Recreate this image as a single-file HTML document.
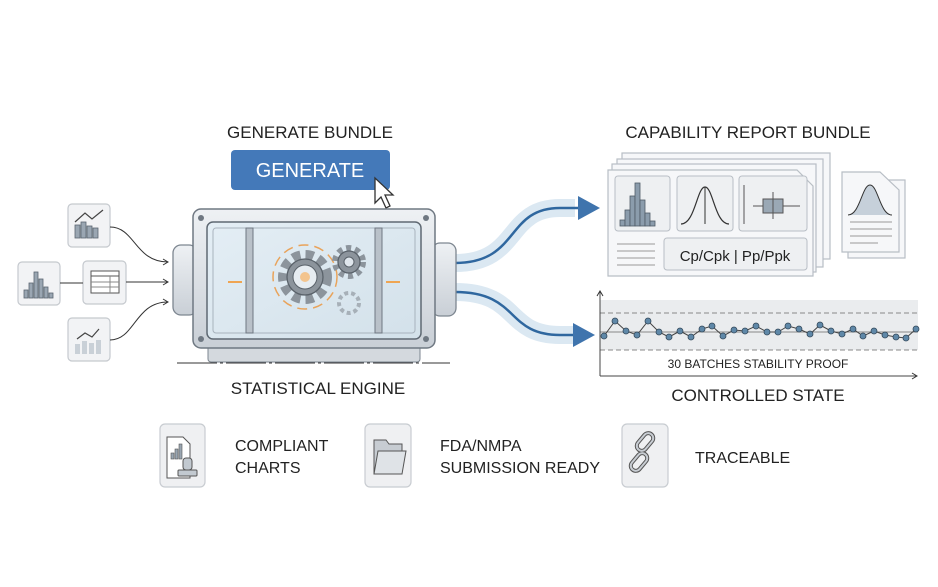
<!DOCTYPE html>
<html><head><meta charset="utf-8"><style>
html,body{margin:0;padding:0;background:#fff;}
svg{display:block;font-family:"Liberation Sans",sans-serif;}
</style></head><body>
<svg width="938" height="587" viewBox="0 0 938 587" xmlns="http://www.w3.org/2000/svg">
<defs>
<linearGradient id="metal" x1="0" y1="0" x2="0" y2="1"><stop offset="0" stop-color="#eef1f4"/><stop offset="1" stop-color="#c9cfd6"/></linearGradient>
<linearGradient id="glass" x1="0" y1="0" x2="1" y2="1"><stop offset="0" stop-color="#e4eef5"/><stop offset="1" stop-color="#d3e1ea"/></linearGradient>
<marker id="ah" markerWidth="8" markerHeight="8" refX="6" refY="4" orient="auto"><path d="M1,1 L6,4 L1,7" fill="none" stroke="#333" stroke-width="1"/></marker>
</defs>
<rect width="938" height="587" fill="#fff"/>

<!-- titles -->
<text x="310" y="138" font-size="17" text-anchor="middle" fill="#222">GENERATE BUNDLE</text>
<rect x="231" y="150" width="159" height="40" rx="4" fill="#4479b9"/>
<text x="310" y="177" font-size="20" text-anchor="middle" fill="#fff">GENERATE</text>
<path d="M375,178 L375,203 L381,197 L386,208 L390,206 L385,195 L393,195 Z" fill="#fff" stroke="#333" stroke-width="1.3"/>

<!-- input icons -->
<g fill="#f2f3f5" stroke="#c5c9ce" stroke-width="1.2">
<rect x="68" y="204" width="42" height="43" rx="4"/>
<rect x="18" y="262" width="42" height="43" rx="4"/>
<rect x="83" y="261" width="43" height="43" rx="4"/>
<rect x="68" y="318" width="42" height="43" rx="4"/>
</g>
<g fill="#9aa6b2" stroke="#5b6670" stroke-width="0.8">
<rect x="75" y="225" width="5" height="13"/><rect x="81" y="222" width="5" height="16"/><rect x="87" y="226" width="5" height="12"/><rect x="93" y="228" width="5" height="10"/>
<rect x="24" y="290" width="4" height="8"/><rect x="29" y="283" width="4" height="15"/><rect x="34" y="272" width="4" height="26"/><rect x="39" y="279" width="4" height="19"/><rect x="44" y="287" width="4" height="11"/><rect x="49" y="293" width="4" height="5"/>
<rect x="75" y="344" width="5" height="10" fill="#c9d0d7" stroke="none"/><rect x="82" y="341" width="5" height="13" fill="#c9d0d7" stroke="none"/><rect x="89" y="343" width="5" height="11" fill="#c9d0d7" stroke="none"/><rect x="96" y="340" width="5" height="14" fill="#c9d0d7" stroke="none"/>
</g>
<polyline points="75,222 85,213 92,219 103,210" fill="none" stroke="#444" stroke-width="1.2"/>
<polyline points="77,339 85,333 92,337 99,329" fill="none" stroke="#444" stroke-width="1.2"/>
<rect x="91" y="271" width="28" height="22" fill="#fff" stroke="#555"/><line x1="91" y1="276" x2="119" y2="276" stroke="#555"/><line x1="91" y1="282" x2="119" y2="282" stroke="#888"/><line x1="91" y1="287" x2="119" y2="287" stroke="#888"/><line x1="110" y1="276" x2="110" y2="293" stroke="#888"/>
<line x1="60" y1="283" x2="83" y2="283" stroke="#333"/>
<path d="M110,227 C135,227 135,262 168,262" fill="none" stroke="#333" marker-end="url(#ah)"/>
<line x1="126" y1="282" x2="168" y2="282" stroke="#333" marker-end="url(#ah)"/>
<path d="M110,340 C135,340 135,302 168,302" fill="none" stroke="#333" marker-end="url(#ah)"/>

<!-- flows right -->
<path d="M455,263 C520,263 505,208 560,208 L575,208" fill="none" stroke="#dbe8f2" stroke-width="18"/>
<path d="M455,263 C520,263 505,208 560,208 L585,208" fill="none" stroke="#2f679f" stroke-width="2.5"/>
<path d="M578,196 L600,208 L578,220 Z" fill="#3f74ad"/>
<path d="M455,292 C520,292 505,335 560,335 L575,335" fill="none" stroke="#dbe8f2" stroke-width="18"/>
<path d="M455,292 C520,292 505,335 560,335 L580,335" fill="none" stroke="#2f679f" stroke-width="2.5"/>
<path d="M573,323 L595,335 L573,347 Z" fill="#3f74ad"/>

<!-- engine -->
<rect x="173" y="245" width="24" height="70" rx="8" fill="url(#metal)" stroke="#7d8690" stroke-width="1.3"/>
<rect x="432" y="243" width="24" height="73" rx="8" fill="url(#metal)" stroke="#7d8690" stroke-width="1.3"/>
<rect x="208" y="340" width="212" height="22" rx="3" fill="#d4d9de" stroke="#7d8690"/>
<rect x="193" y="209" width="242" height="139" rx="8" fill="url(#metal)" stroke="#6f7882" stroke-width="1.5"/>
<rect x="207" y="222" width="214" height="117" rx="6" fill="url(#glass)" stroke="#5f6973" stroke-width="1.5"/>
<rect x="213" y="228" width="202" height="105" rx="3" fill="none" stroke="#a8b3bd"/>
<g fill="#b9c1c9" stroke="#6f7882"><rect x="246" y="228" width="7" height="105"/><rect x="375" y="228" width="7" height="105"/></g>
<g fill="#6f7882"><circle cx="201" cy="218" r="3"/><circle cx="426" cy="218" r="3"/><circle cx="201" cy="339" r="3"/><circle cx="426" cy="339" r="3"/></g>
<circle cx="305" cy="277" r="32" fill="none" stroke="#e9a35a" stroke-width="1.5" stroke-dasharray="10 6"/>
<g fill="#8c949c" stroke="#5a626a" stroke-width="1.3">
<circle cx="305" cy="277" r="22" stroke-dasharray="8 5" stroke-width="10" fill="none" stroke="#8c949c"/>
<circle cx="305" cy="277" r="18"/>
<circle cx="349" cy="262" r="14" stroke-dasharray="5 4" stroke-width="6" fill="none" stroke="#8c949c"/>
<circle cx="349" cy="262" r="11"/>
</g>
<circle cx="305" cy="277" r="12" fill="#e6ecf1" stroke="#5a626a"/>
<circle cx="305" cy="277" r="5" fill="#f3c48e"/>
<circle cx="349" cy="262" r="5" fill="#dfe6ec" stroke="#5a626a"/>
<circle cx="349" cy="303" r="10" fill="none" stroke="#a7b0b8" stroke-width="4" stroke-dasharray="4 3"/>
<g stroke="#efa552" stroke-width="2"><line x1="228" y1="282" x2="242" y2="282"/><line x1="386" y1="282" x2="400" y2="282"/></g>
<line x1="177" y1="363" x2="450" y2="363" stroke="#333" stroke-dasharray="40 3 3 3"/>
<text x="318" y="394" font-size="17" text-anchor="middle" fill="#222">STATISTICAL ENGINE</text>

<!-- report bundle -->
<text x="748" y="138" font-size="17" text-anchor="middle" fill="#222">CAPABILITY REPORT BUNDLE</text>
<g fill="#f6f7f9" stroke="#b8bec5" stroke-width="1.2">
<rect x="622" y="153" width="208" height="106"/>
<rect x="617" y="159" width="206" height="108"/>
<rect x="612" y="164" width="204" height="108"/>
<path d="M608,170 L797,170 L813,186 L813,276 L608,276 Z"/>
</g>
<g fill="#eef0f2" stroke="#b8bec5">
<rect x="615" y="176" width="55" height="55" rx="3"/><rect x="677" y="176" width="56" height="55" rx="3"/><rect x="739" y="176" width="68" height="55" rx="3"/>
<rect x="664" y="238" width="143" height="32" rx="3"/>
</g>
<g fill="#8b9cac" stroke="#4f5b66" stroke-width="0.8">
<rect x="620" y="220" width="5" height="6"/><rect x="625" y="210" width="5" height="16"/><rect x="630" y="196" width="5" height="30"/><rect x="635" y="183" width="5" height="43"/><rect x="640" y="200" width="5" height="26"/><rect x="645" y="213" width="5" height="13"/><rect x="650" y="221" width="5" height="5"/>
</g>
<path d="M681,224 C695,224 697,187 705,187 C713,187 715,224 729,224" fill="none" stroke="#333" stroke-width="1.2"/>
<line x1="705" y1="187" x2="705" y2="224" stroke="#333"/>
<line x1="744" y1="185" x2="744" y2="224" stroke="#555"/>
<line x1="753" y1="206" x2="800" y2="206" stroke="#555"/>
<rect x="763" y="199" width="20" height="14" fill="#9aa8b5" stroke="#555"/>
<line x1="773" y1="192" x2="773" y2="219" stroke="#555"/>
<g stroke="#999"><line x1="617" y1="244" x2="655" y2="244"/><line x1="617" y1="251" x2="655" y2="251"/><line x1="617" y1="258" x2="655" y2="258"/><line x1="617" y1="265" x2="655" y2="265"/></g>
<text x="735" y="261" font-size="15" text-anchor="middle" fill="#222">Cp/Cpk | Pp/Ppk</text>
<g fill="#f6f7f9" stroke="#b8bec5" stroke-width="1.2">
<rect x="848" y="180" width="57" height="78"/>
<path d="M842,172 L880,172 L899,190 L899,252 L842,252 Z"/>
</g>
<path d="M848,215 C860,215 862,185 870,185 C878,185 880,215 892,215" fill="#c6d0da" stroke="#333"/>
<g stroke="#999"><line x1="850" y1="222" x2="892" y2="222"/><line x1="850" y1="229" x2="892" y2="229"/><line x1="850" y1="236" x2="892" y2="236"/><line x1="850" y1="243" x2="878" y2="243"/></g>

<!-- control chart -->
<rect x="600" y="300" width="318" height="50" fill="#eaecee"/>
<line x1="600" y1="313" x2="918" y2="313" stroke="#888" stroke-dasharray="5 3"/>
<line x1="600" y1="350" x2="918" y2="350" stroke="#888" stroke-dasharray="5 3"/>
<line x1="600" y1="332" x2="918" y2="332" stroke="#888"/>
<polyline points="604,336 615,321 626,331 637,335 648,321 659,332 669,337 680,331 691,337 702,329 712,326 723,336 734,330 745,331 756,326 767,332 778,332 788,326 799,329 810,334 820,325 831,331 842,334 853,329 863,336 874,331 885,335 896,337 906,338 916,329" fill="none" stroke="#444" stroke-width="1"/>
<g fill="#5f88a8" stroke="#33485a" stroke-width="0.8">
<circle cx="604" cy="336" r="3"/><circle cx="615" cy="321" r="3"/><circle cx="626" cy="331" r="3"/><circle cx="637" cy="335" r="3"/><circle cx="648" cy="321" r="3"/><circle cx="659" cy="332" r="3"/><circle cx="669" cy="337" r="3"/><circle cx="680" cy="331" r="3"/><circle cx="691" cy="337" r="3"/><circle cx="702" cy="329" r="3"/><circle cx="712" cy="326" r="3"/><circle cx="723" cy="336" r="3"/><circle cx="734" cy="330" r="3"/><circle cx="745" cy="331" r="3"/><circle cx="756" cy="326" r="3"/><circle cx="767" cy="332" r="3"/><circle cx="778" cy="332" r="3"/><circle cx="788" cy="326" r="3"/><circle cx="799" cy="329" r="3"/><circle cx="810" cy="334" r="3"/><circle cx="820" cy="325" r="3"/><circle cx="831" cy="331" r="3"/><circle cx="842" cy="334" r="3"/><circle cx="853" cy="329" r="3"/><circle cx="863" cy="336" r="3"/><circle cx="874" cy="331" r="3"/><circle cx="885" cy="335" r="3"/><circle cx="896" cy="337" r="3"/><circle cx="906" cy="338" r="3"/><circle cx="916" cy="329" r="3"/>
</g>
<line x1="600" y1="376" x2="600" y2="291" stroke="#444" marker-end="url(#ah)"/>
<line x1="600" y1="376" x2="917" y2="376" stroke="#444" marker-end="url(#ah)"/>
<text x="758" y="368" font-size="12" text-anchor="middle" fill="#222">30 BATCHES STABILITY PROOF</text>
<text x="758" y="401" font-size="17" text-anchor="middle" fill="#222">CONTROLLED STATE</text>

<!-- bottom badges -->
<g fill="#eff0f2" stroke="#c8ccd1" stroke-width="1.2">
<rect x="160" y="424" width="45" height="63" rx="5"/>
<rect x="365" y="424" width="46" height="63" rx="5"/>
<rect x="622" y="424" width="46" height="63" rx="5"/>
</g>
<path d="M167,437 L183,437 L190,444 L190,478 L167,478 Z" fill="#fff" stroke="#555"/>
<g fill="#9aa6b2" stroke="#555" stroke-width="0.6"><rect x="171" y="453" width="3" height="6"/><rect x="175" y="449" width="3" height="10"/><rect x="179" y="444" width="3" height="15"/></g>
<rect x="183" y="458" width="9" height="12" rx="3" fill="#c2c9d0" stroke="#555"/>
<rect x="178" y="470" width="19" height="6" rx="1" fill="#c2c9d0" stroke="#555"/>
<path d="M374,440 L386,440 L389,444 L402,444 L402,474 L374,474 Z" fill="#c7ccd2" stroke="#555"/>
<path d="M374,474 L378,451 L406,451 L402,474 Z" fill="#dfe3e7" stroke="#555"/>
<g fill="none" stroke="#555" stroke-width="4" stroke-linecap="round">
<rect x="640" y="432" width="10" height="20" rx="5" transform="rotate(40 645 442)"/>
<rect x="634" y="452" width="10" height="20" rx="5" transform="rotate(40 639 462)"/>
</g>
<g fill="none" stroke="#c8cdd3" stroke-width="2">
<rect x="640" y="432" width="10" height="20" rx="5" transform="rotate(40 645 442)"/>
<rect x="634" y="452" width="10" height="20" rx="5" transform="rotate(40 639 462)"/>
</g>
<g font-size="16" fill="#222">
<text x="235" y="451">COMPLIANT</text><text x="235" y="473">CHARTS</text>
<text x="440" y="451">FDA/NMPA</text><text x="440" y="473">SUBMISSION READY</text>
<text x="695" y="463">TRACEABLE</text>
</g>
</svg>
</body></html>
